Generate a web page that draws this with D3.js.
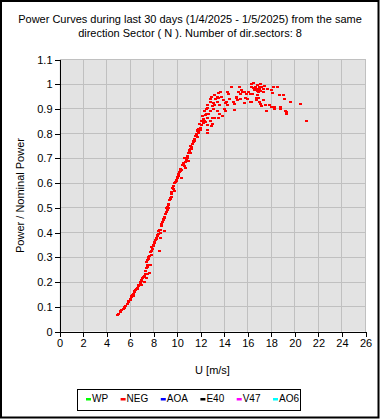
<!DOCTYPE html>
<html><head><meta charset="utf-8">
<script src="https://cdn.jsdelivr.net/npm/d3@7"></script>
<style>
html,body{margin:0;padding:0;background:#fff;}
svg{display:block;font-family:"Liberation Sans",Arial,sans-serif;}
</style></head>
<body>
<svg id="c" width="380" height="420"></svg>
<script>
const titleLines = ["Power Curves during last 30 days (1/4/2025 - 1/5/2025) from the same",
                    "direction Sector ( N ). Number of dir.sectors: 8"];
const xTicks = [0,2,4,6,8,10,12,14,16,18,20,22,24,26];
const yTicks = [0,0.1,0.2,0.3,0.4,0.5,0.6,0.7,0.8,0.9,1,1.1];
const yTickLabels = ["0","0.1","0.2","0.3","0.4","0.5","0.6","0.7","0.8","0.9","1","1.1"];
const legendNames = ["WP","NEG","AOA","E40","V47","AO6"];
const legendColors = ["#00ff00","#ff0000","#0000ff","#000000","#ff00ff","#00ffff"];
const xTitle = "U [m/s]";
const yTitle = "Power / Nominal Power";

// NEG series: [wind speed (m/s), power / nominal power]
const negPoints = [
[4.95,0.068],[5.05,0.072],[5.15,0.078],[5.2,0.082],[5.3,0.085],[5.4,0.09],[5.5,0.096],[5.55,0.1],[5.65,0.104],[5.75,0.11],[5.85,0.118],[5.9,0.122],[6.0,0.127],[6.05,0.132],
[6.1,0.138],[6.15,0.142],[6.2,0.148],[6.25,0.15],[6.3,0.145],[6.35,0.158],[6.4,0.163],[6.45,0.168],[6.55,0.17],[6.6,0.176],[6.65,0.172],[6.7,0.183],[6.75,0.188],[6.8,0.19],[6.85,0.2],[6.9,0.197],[6.95,0.205],[7.0,0.207],[7.05,0.215],[7.18,0.2],[7.0,0.19],
[7.1,0.22],[7.2,0.225],[7.3,0.232],[7.35,0.218],[7.5,0.232],[7.65,0.235],[7.3,0.245],[7.4,0.257],[7.45,0.262],[7.5,0.27],[7.4,0.28],[7.5,0.289],[7.55,0.295],[7.6,0.3],[7.75,0.27],[7.65,0.305],[7.8,0.31],[7.75,0.32],[7.85,0.325],[7.9,0.335],[7.95,0.345],[7.85,0.34],[8.0,0.35],
[8.05,0.357],[8.1,0.362],[8.15,0.37],[8.2,0.38],[8.25,0.376],[8.3,0.39],[8.35,0.385],[8.4,0.395],[8.45,0.405],[8.5,0.41],[8.55,0.4],[8.6,0.41],[8.65,0.427],[8.7,0.435],[8.75,0.444],[8.8,0.45],[8.85,0.455],[8.9,0.464],[8.95,0.46],[9.0,0.476],[8.55,0.38],[8.95,0.405],[8.5,0.325],
[9.05,0.482],[9.1,0.5],[9.15,0.49],[9.2,0.505],[9.25,0.51],[9.3,0.515],[9.35,0.53],[9.4,0.54],[9.45,0.535],[9.5,0.556],[9.55,0.566],[9.6,0.58],[9.65,0.575],[9.7,0.59],[9.75,0.6],[9.8,0.57],[9.85,0.605],[9.9,0.61],[9.95,0.613],[10.0,0.62],[9.3,0.5],[9.5,0.545],
[10.05,0.625],[10.1,0.63],[10.15,0.637],[10.2,0.645],[10.25,0.65],[10.3,0.656],[10.35,0.62],[10.4,0.653],[10.45,0.672],[10.5,0.68],[10.55,0.675],[10.6,0.67],[10.65,0.7],[10.7,0.66],[10.72,0.685],[10.8,0.695],[10.85,0.7],[10.95,0.69],[10.9,0.71],[11.0,0.72],
[11.05,0.73],[11.06,0.734],[11.1,0.74],[11.15,0.75],[11.15,0.72],[11.2,0.745],[11.25,0.74],[11.3,0.76],[11.35,0.772],[11.4,0.765],[11.45,0.77],[11.5,0.78],[11.55,0.79],[11.6,0.795],[11.65,0.8],[11.7,0.81],[11.75,0.787],[11.75,0.815],[11.8,0.804],[11.85,0.81],[11.85,0.82],[11.9,0.84],[11.95,0.815],[12.0,0.825],[12.0,0.82],
[12.05,0.85],[12.1,0.834],[12.13,0.87],[12.2,0.845],[12.25,0.86],[12.3,0.85],[12.35,0.893],[12.4,0.847],[12.4,0.875],[12.45,0.9],[12.5,0.88],[12.55,0.905],[12.6,0.804],[12.6,0.834],[12.6,0.865],[12.6,0.917],[12.6,0.815],[12.7,0.88],[12.8,0.893],[12.8,0.85],[12.8,0.93],[12.85,0.94],[12.9,0.83],[12.95,0.95],[13.0,0.865],[13.0,0.84],[13.0,0.91],
[13.1,0.9],[13.1,0.925],[13.2,0.915],[13.2,0.863],[13.2,0.955],[13.25,0.94],[13.4,0.928],[13.4,0.89],[13.45,0.95],[13.5,0.865],[13.5,0.963],[13.5,0.945],[13.6,0.915],[13.6,0.88],[13.7,0.968],[13.75,0.95],[13.85,0.87],[13.9,0.935],[14.0,0.898],
[14.1,0.89],[14.1,0.923],[14.2,0.928],[14.26,0.968],[14.3,0.918],[14.4,0.96],[14.45,0.94],[14.6,0.987],[14.75,0.93],[14.9,0.92],[14.9,0.895],[15.0,0.95],[15.05,0.944],
[15.1,0.935],[15.2,0.97],[15.28,0.987],[15.4,0.94],[15.4,0.96],[15.5,0.975],[15.57,0.968],[15.6,0.97],[15.7,0.968],[15.75,0.925],[15.8,0.945],[15.9,0.96],[16.0,0.94],
[16.1,0.97],[16.2,0.96],[16.2,0.93],[16.3,0.99],[16.33,0.928],[16.33,1.0],[16.4,0.962],[16.45,1.003],[16.5,0.985],[16.6,0.975],[16.63,0.99],[16.7,0.935],[16.75,0.944],[16.75,0.98],[16.8,0.995],[16.8,0.971],[16.85,0.955],[16.9,0.945],[16.95,0.97],[17.0,0.99],[17.0,0.93],[17.0,0.98],[17.05,0.92],
[17.06,1.0],[17.1,0.971],[17.2,0.987],[17.2,0.912],[17.3,0.97],[17.3,0.935],[17.35,0.98],[17.4,0.993],[17.5,0.918],[17.55,0.89],[17.7,0.98],[17.85,0.915],[18.0,0.978],[18.0,0.908],
[18.1,0.965],[18.2,0.988],[18.3,0.908],[18.3,0.9],[18.5,0.988],[18.7,0.955],[18.75,0.9],[18.8,0.908],[19.0,0.958],[19.15,0.94],[19.2,0.893],[19.3,0.888],[19.3,0.88],[19.6,0.928],[20.45,0.922],[20.95,0.852]
];

const svg = d3.select("#c");
const W = 380, H = 420;
const plot = {left:59.5, right:365.5, top:59.5, bottom:331.5};
const x = d3.scaleLinear().domain([0,26]).range([plot.left, plot.right]);
const y = d3.scaleLinear().domain([0,1.1]).range([plot.bottom, plot.top]);

svg.append("rect").attr("x",0).attr("y",0).attr("width",W).attr("height",H).attr("fill","#fff");

// title
svg.append("text").attr("x",190).attr("y",23).attr("text-anchor","middle")
  .attr("font-size","11px").attr("fill","#000")
  .selectAll("tspan").data(titleLines).join("tspan")
  .attr("x",190).attr("dy",(d,i)=> i===0 ? 0 : 13.5).text(d=>d);

// plot background
svg.append("rect").attr("x",plot.left).attr("y",plot.top)
  .attr("width",plot.right-plot.left).attr("height",plot.bottom-plot.top)
  .attr("fill","#e3e3e3");

// grid
const grid = svg.append("g").attr("stroke","#c0c0c0").attr("stroke-width",1).attr("shape-rendering","crispEdges");
grid.selectAll("line.v").data(xTicks.filter(d=>d>0)).join("line")
  .attr("x1",d=>x(d)).attr("x2",d=>x(d)).attr("y1",plot.top).attr("y2",plot.bottom);
grid.selectAll("line.h").data(yTicks.filter(d=>d>0)).join("line")
  .attr("class","h")
  .attr("x1",plot.left).attr("x2",plot.right).attr("y1",d=>y(d)).attr("y2",d=>y(d));

// points
svg.append("g").attr("fill","#ff0000").attr("shape-rendering","crispEdges")
  .selectAll("rect").data(negPoints).join("rect")
  .attr("x",d=>Math.round(x(d[0])-1.5)).attr("y",d=>Math.round(y(d[1])-1))
  .attr("width",3).attr("height",2);

// axes
const xAxis = d3.axisBottom(x).tickValues(xTicks).tickSize(5).tickPadding(3).tickSizeOuter(0);
const gx = svg.append("g").attr("transform",`translate(0,${plot.bottom})`).call(xAxis);
const yAxis = d3.axisLeft(y).tickValues(yTicks).tickSize(5).tickPadding(2).tickSizeOuter(0)
  .tickFormat((d,i)=>yTickLabels[i]);
const gy = svg.append("g").attr("transform",`translate(${plot.left},0)`).call(yAxis);
[gx,gy].forEach(g=>{
  g.selectAll("text").attr("font-size","11px").attr("fill","#000").attr("font-family","'Liberation Sans',Arial,sans-serif");
  g.selectAll("line,path").attr("stroke","#000").attr("shape-rendering","crispEdges");
});

// axis titles
svg.append("text").attr("x",(plot.left+plot.right)/2).attr("y",374).attr("text-anchor","middle")
  .attr("font-size","11px").text(xTitle);
svg.append("text").attr("transform",`translate(24,${(plot.top+plot.bottom)/2}) rotate(-90)`)
  .attr("text-anchor","middle").attr("font-size","11px").text(yTitle);

// legend
svg.append("rect").attr("x",77.5).attr("y",389.5).attr("width",223).attr("height",21)
  .attr("fill","#fff").attr("stroke","#000").attr("stroke-width",1);
let lx = 86;
legendNames.forEach((name,i)=>{
  svg.append("rect").attr("x",lx).attr("y",398).attr("width",5).attr("height",2.5).attr("fill",legendColors[i]);
  const t = svg.append("text").attr("x",lx+6).attr("y",402).attr("font-size","10px").text(name);
  const w = t.node().getComputedTextLength();
  lx = lx + 6 + w + 12.5;
});

// outer frame
svg.append("rect").attr("x",1).attr("y",1).attr("width",377.5).attr("height",416.5)
  .attr("fill","none").attr("stroke","#000").attr("stroke-width",2);
</script>
</body></html>
